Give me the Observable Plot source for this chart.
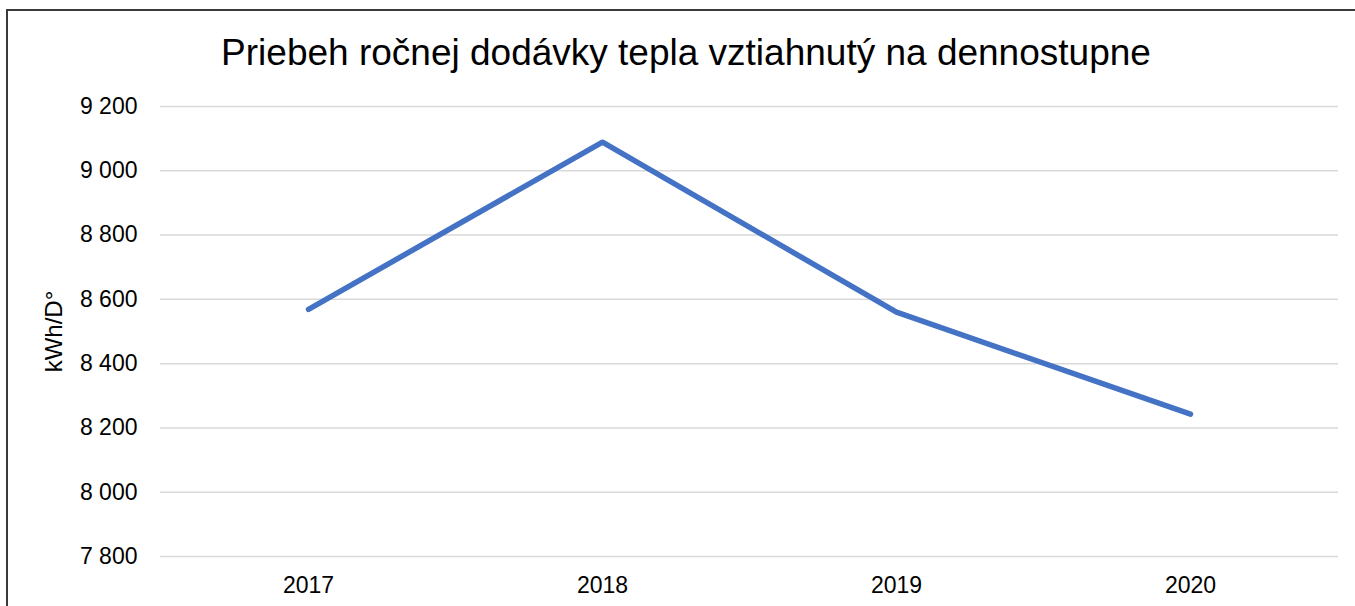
<!DOCTYPE html>
<html>
<head>
<meta charset="utf-8">
<script src="https://cdn.jsdelivr.net/npm/d3@7"></script>
<script src="https://cdn.jsdelivr.net/npm/@observablehq/plot@0.6"></script>
<style>
  html, body { margin: 0; padding: 0; background: #fff; }
  #wrap { position: relative; width: 1355px; height: 606px; overflow: hidden; background: #fff; font-family: "Liberation Sans", Arial, sans-serif; }
  #frame { position: absolute; left: 6px; top: 9px; width: 1400px; height: 700px; border-top: 2px solid #3a3a3a; border-left: 2px solid #3a3a3a; }
  #title { position: absolute; left: 0; top: 34px; width: 1372px; text-align: center; font-size: 37px; line-height: 37px; color: #000; white-space: nowrap; }
  #chart { position: absolute; left: 0; top: 90px; }
</style>
</head>
<body>
<div id="wrap">
  <div id="frame"></div>
  <div id="title">Priebeh ročnej dodávky tepla vztiahnutý na dennostupne</div>
  <div id="chart"></div>
</div>
<script>
const years = ["2017", "2018", "2019", "2020"];
const values = [8569, 9089, 8560, 8243];
const yTicks = [7800, 8000, 8200, 8400, 8600, 8800, 9000, 9200];
const yLabel = "kWh/D°";

const data = years.map((year, i) => ({year, value: values[i]}));
const fmt = d3.formatLocale({decimal: ",", thousands: " ", grouping: [3], currency: ["", ""]}).format(",");

const chart = Plot.plot({
  width: 1355,
  height: 516,
  marginTop: 16,
  marginBottom: 50,
  marginLeft: 160,
  marginRight: 17,
  style: {fontFamily: "Liberation Sans, Arial, sans-serif", fontSize: "23px", color: "#000", background: "transparent"},
  x: {type: "point", domain: years, padding: 0.5},
  y: {domain: [7800, 9200]},
  marks: [
    Plot.gridY(yTicks, {stroke: "#d9d9d9", strokeOpacity: 1, strokeWidth: 1.5}),
    Plot.axisY(yTicks, {tickSize: 0, tickPadding: 23, tickFormat: fmt, fontSize: 23, label: null}),
    Plot.axisX({tickSize: 0, tickPadding: 20, fontSize: 23, label: null}),
    Plot.line(data, {x: "year", y: "value", stroke: "#4472C4", strokeWidth: 5.5, strokeLinecap: "round", strokeLinejoin: "round"}),
    Plot.text([yLabel], {frameAnchor: "left", dx: -106, rotate: -90, fontSize: 24, textAnchor: "middle"})
  ]
});
document.getElementById("chart").appendChild(chart);
</script>
</body>
</html>
